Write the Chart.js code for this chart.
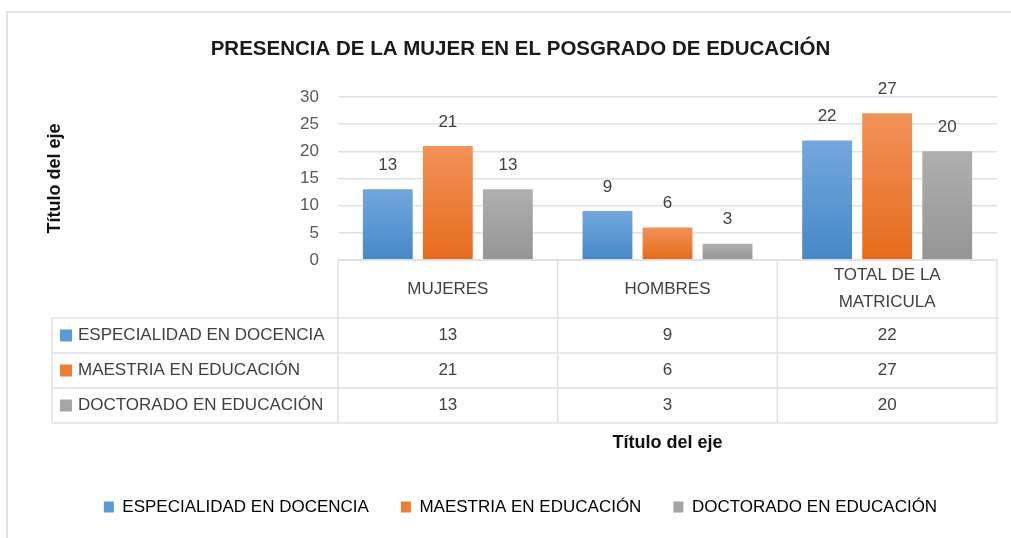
<!doctype html>
<html lang="es">
<head>
<meta charset="utf-8">
<title>Presencia de la mujer en el posgrado de educación</title>
<script src="https://cdn.jsdelivr.net/npm/chart.js"></script>
<style>
  body { margin: 0; background: #fff; }
  #marco { position: absolute; left: 6px; top: 11px; width: 1011px; height: 600px;
           border-left: 2px solid #e1e5ea; border-top: 2px solid #e1e5ea; }
  #grafico { position: absolute; left: 0; top: 0; }
</style>
</head>
<body>
<div id="marco"></div>
<canvas id="grafico" width="1011" height="538"></canvas>

<script>
// datos del grafico
const categorias = ['MUJERES', 'HOMBRES', ['TOTAL DE LA', 'MATRICULA']];
const series = ['ESPECIALIDAD EN DOCENCIA', 'MAESTRIA EN EDUCACIÓN', 'DOCTORADO EN EDUCACIÓN'];
const especialidad = [13, 9, 22];
const maestria = [21, 6, 27];
const doctorado = [13, 3, 20];
const ejeMin = 0, ejeMax = 30, ejePaso = 5;

// colores: solido, arriba, abajo
const colores = [
  ['#5b9bd5', '#72a7dd', '#4688c8'],
  ['#ed7d31', '#f29259', '#e66b1b'],
  ['#a5a5a5', '#afafaf', '#959595']
];

const fuente = '"Liberation Sans", Arial, sans-serif';
const gris = '#404040';

function degradado(i) {
  return function (ctx) {
    const chart = ctx.chart;
    if (!chart.chartArea || ctx.type !== 'data') return colores[i][0];
    const y = chart.scales.y;
    const top = y.getPixelForValue(ctx.raw);
    const bottom = y.getPixelForValue(0);
    const g = chart.ctx.createLinearGradient(0, top, 0, bottom);
    g.addColorStop(0, colores[i][1]);
    g.addColorStop(1, colores[i][2]);
    return g;
  };
}

// etiquetas sobre las barras
const etiquetas = {
  id: 'etiquetas',
  afterDatasetsDraw(chart) {
    const ctx = chart.ctx;
    ctx.save();
    ctx.font = '17px ' + fuente;
    ctx.fillStyle = gris;
    ctx.textAlign = 'center';
    ctx.textBaseline = 'middle';
    chart.data.datasets.forEach((ds, i) => {
      chart.getDatasetMeta(i).data.forEach((bar, j) => {
        ctx.fillText(ds.data[j], bar.x, bar.y - 24);
      });
    });
    ctx.restore();
  }
};

// tabla de datos bajo el eje
const tabla = {
  id: 'tabla',
  afterDraw(chart) {
    const ctx = chart.ctx;
    const area = chart.chartArea;
    const x = chart.scales.x;
    const izq = 52, altoCab = 58, altoFila = 35;
    const ancho = (area.right - area.left) / categorias.length;
    const y0 = area.bottom;
    const yFin = y0 + altoCab + altoFila * series.length;

    ctx.save();
    ctx.strokeStyle = '#dde1e7';
    ctx.lineWidth = 1.5;
    ctx.beginPath();
    ctx.moveTo(area.left, y0); ctx.lineTo(area.right, y0);
    for (let r = 0; r <= series.length; r++) {
      const y = y0 + altoCab + r * altoFila;
      ctx.moveTo(izq, y); ctx.lineTo(area.right, y);
    }
    ctx.moveTo(izq, y0 + altoCab); ctx.lineTo(izq, yFin);
    for (let c = 0; c <= categorias.length; c++) {
      const xc = area.left + c * ancho;
      ctx.moveTo(xc, y0); ctx.lineTo(xc, yFin);
    }
    ctx.stroke();

    ctx.font = '17px ' + fuente;
    ctx.fillStyle = gris;
    ctx.textBaseline = 'middle';
    ctx.textAlign = 'center';
    categorias.forEach((cat, c) => {
      const cx = x.getPixelForValue(c);
      const lineas = Array.isArray(cat) ? cat : [cat];
      lineas.forEach((t, k) => {
        ctx.fillText(t, cx, y0 + altoCab / 2 + (k - (lineas.length - 1) / 2) * 27);
      });
    });

    const valores = chart.data.datasets.map(d => d.data);
    series.forEach((nombre, r) => {
      const cy = y0 + altoCab + r * altoFila + altoFila / 2;
      ctx.fillStyle = colores[r][0];
      ctx.fillRect(izq + 8, cy - 6, 12, 12);
      ctx.fillStyle = gris;
      ctx.textAlign = 'left';
      ctx.fillText(nombre, izq + 26, cy);
      ctx.textAlign = 'center';
      valores[r].forEach((v, c) => ctx.fillText(v, x.getPixelForValue(c), cy));
    });
    ctx.restore();
  }
};

new Chart(document.getElementById('grafico'), {
  type: 'bar',
  data: {
    labels: categorias,
    datasets: [
      { label: series[0], data: especialidad, backgroundColor: degradado(0) },
      { label: series[1], data: maestria, backgroundColor: degradado(1) },
      { label: series[2], data: doctorado, backgroundColor: degradado(2) }
    ]
  },
  options: {
    responsive: false,
    animation: false,
    devicePixelRatio: 1,
    categoryPercentage: 0.82,
    barPercentage: 0.83,
    layout: { padding: { left: 44, right: 14, top: 0, bottom: 12.5 } },
    plugins: {
      title: {
        display: true,
        text: 'PRESENCIA DE LA MUJER EN EL POSGRADO DE EDUCACIÓN',
        color: '#1a1a1a',
        font: { family: fuente, size: 20.5, weight: 'bold' },
        padding: { top: 37, bottom: 35.4 }
      },
      legend: {
        position: 'bottom',
        labels: {
          color: gris,
          font: { family: fuente, size: 17 },
          boxWidth: 10,
          boxHeight: 11,
          padding: 32,
          generateLabels(chart) {
            return chart.data.datasets.map((d, i) => ({
              text: d.label,
              fillStyle: colores[i][0],
              strokeStyle: colores[i][0],
              lineWidth: 0,
              datasetIndex: i
            }));
          }
        }
      },
      tooltip: { enabled: false }
    },
    scales: {
      x: {
        grid: { display: false },
        border: { display: false },
        ticks: { display: false },
        title: {
          display: true,
          text: 'Título del eje',
          color: '#111',
          font: { family: fuente, size: 18, weight: 'bold' },
          padding: { top: 0, bottom: 12.7 }
        },
        afterFit(s) { s.height = 206.5; }
      },
      y: {
        min: ejeMin,
        max: ejeMax,
        ticks: { stepSize: ejePaso, color: '#595959', padding: 19, font: { family: fuente, size: 17 } },
        grid: { color: '#dde1e7', lineWidth: 1.5, drawTicks: false },
        border: { display: false },
        title: {
          display: true,
          text: 'Título del eje',
          color: '#111',
          font: { family: fuente, size: 18, weight: 'bold' },
          padding: { top: 0.2, bottom: 0 }
        },
        afterFit(s) { s.width = 294; }
      }
    }
  },
  plugins: [etiquetas, tabla]
});
</script>
</body>
</html>
